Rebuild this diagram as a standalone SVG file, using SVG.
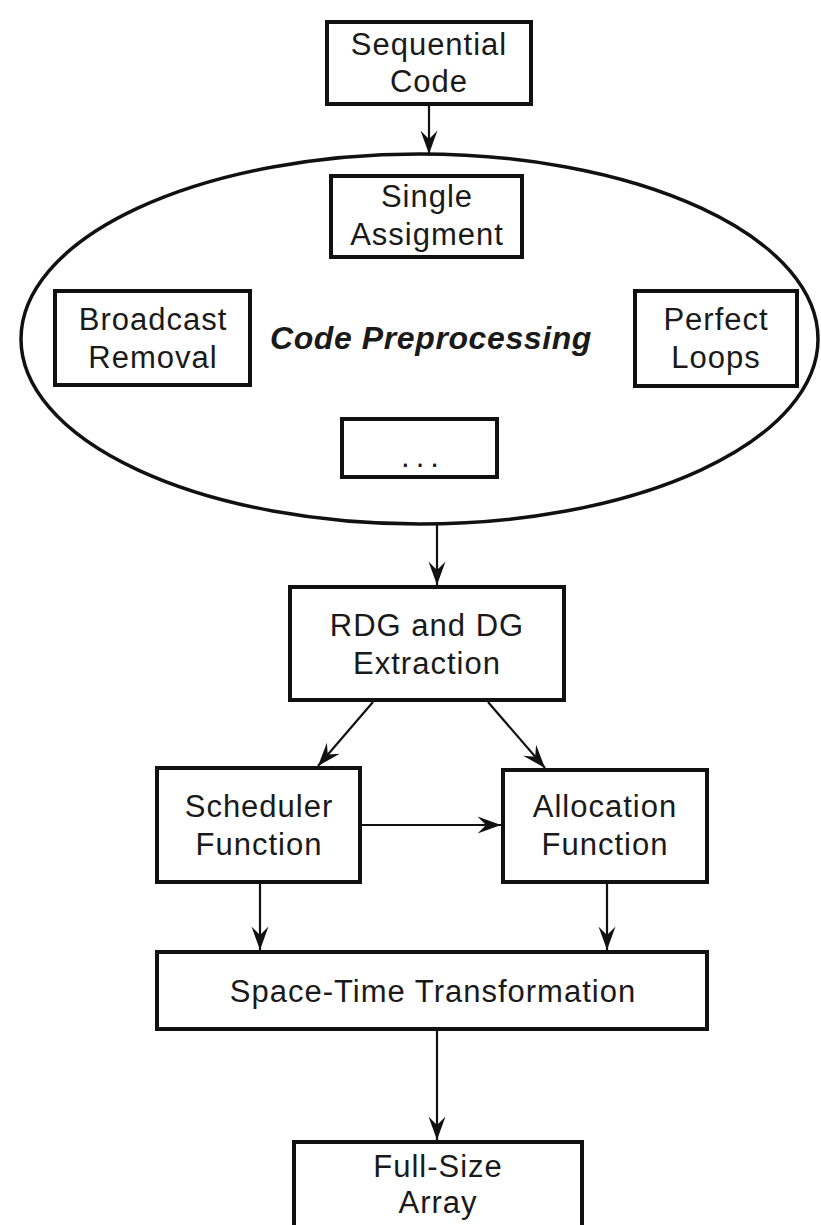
<svg xmlns="http://www.w3.org/2000/svg" width="821" height="1225" viewBox="0 0 821 1225">
  <defs>
    <marker id="arrow" markerUnits="userSpaceOnUse" viewBox="0 0 24 18" markerWidth="24" markerHeight="18" refX="24" refY="9" orient="auto">
      <path d="M24,9 L0.5,0.5 L9,9 L0.5,17.5 Z" fill="#111"/>
    </marker>
  </defs>
  <style>
    .box { fill: #fff; stroke: #111; stroke-width: 4; }
    .oval { fill: none; stroke: #111; stroke-width: 3.5; }
    .lbl { font-family: "Liberation Sans", Arial, sans-serif; font-size: 31px; letter-spacing: 1px; fill: #1a1a1a; text-anchor: middle; }
    .title { font-family: "Liberation Sans", Arial, sans-serif; font-size: 32px; font-weight: bold; font-style: italic; letter-spacing: 0.6px; fill: #1a1a1a; text-anchor: middle; }
    .dots { letter-spacing: 6px; }
    .edge { fill: none; stroke: #111; stroke-width: 2.2; marker-end: url(#arrow); }
  </style>
  <rect width="821" height="1225" fill="#fff"/>

  <!-- preprocessing stage: ellipse with its sub-steps -->
  <g id="code-preprocessing">
    <ellipse class="oval" cx="419.5" cy="339" rx="398.5" ry="185"/>
    <text class="title" x="431" y="349">Code Preprocessing</text>
  </g>

  <g id="sequential-code">
    <rect class="box" x="327" y="22" width="204" height="82"/>
    <text class="lbl" x="429" y="55">Sequential</text>
    <text class="lbl" x="429" y="92">Code</text>
  </g>

  <g id="single-assignment">
    <rect class="box" x="331" y="176" width="191" height="81"/>
    <text class="lbl" x="427" y="207">Single</text>
    <text class="lbl" x="427" y="245">Assigment</text>
  </g>

  <g id="broadcast-removal">
    <rect class="box" x="55" y="291" width="195" height="94"/>
    <text class="lbl" x="153" y="330">Broadcast</text>
    <text class="lbl" x="153" y="368">Removal</text>
  </g>

  <g id="perfect-loops">
    <rect class="box" x="635" y="291" width="162" height="95"/>
    <text class="lbl" x="716" y="330">Perfect</text>
    <text class="lbl" x="716" y="368">Loops</text>
  </g>

  <g id="more-steps">
    <rect class="box" x="342" y="419" width="155" height="58"/>
    <text class="lbl dots" x="423" y="467">...</text>
  </g>

  <g id="rdg-dg-extraction">
    <rect class="box" x="290" y="587" width="274" height="113"/>
    <text class="lbl" x="427" y="636">RDG and DG</text>
    <text class="lbl" x="427" y="674">Extraction</text>
  </g>

  <g id="scheduler-function">
    <rect class="box" x="157" y="768" width="203" height="114"/>
    <text class="lbl" x="259" y="817">Scheduler</text>
    <text class="lbl" x="259" y="855">Function</text>
  </g>

  <g id="allocation-function">
    <rect class="box" x="503" y="770" width="204" height="112"/>
    <text class="lbl" x="605" y="817">Allocation</text>
    <text class="lbl" x="605" y="855">Function</text>
  </g>

  <g id="space-time-transformation">
    <rect class="box" x="157" y="952" width="550" height="77"/>
    <text class="lbl" x="433" y="1002">Space-Time Transformation</text>
  </g>

  <g id="full-size-array">
    <rect class="box" x="294" y="1142" width="288" height="110"/>
    <text class="lbl" x="438" y="1177">Full-Size</text>
    <text class="lbl" x="438" y="1213">Array</text>
  </g>

  <!-- connectors -->
  <g id="connectors">
    <line class="edge" x1="429" y1="106" x2="429" y2="154"/>
    <line class="edge" x1="437" y1="525" x2="437" y2="585"/>
    <line class="edge" x1="373" y1="702" x2="318" y2="766"/>
    <line class="edge" x1="488" y1="702" x2="545" y2="768"/>
    <line class="edge" x1="362" y1="825" x2="501" y2="825"/>
    <line class="edge" x1="260" y1="884" x2="260" y2="950"/>
    <line class="edge" x1="607" y1="884" x2="607" y2="950"/>
    <line class="edge" x1="437" y1="1031" x2="437" y2="1140"/>
  </g>
</svg>
